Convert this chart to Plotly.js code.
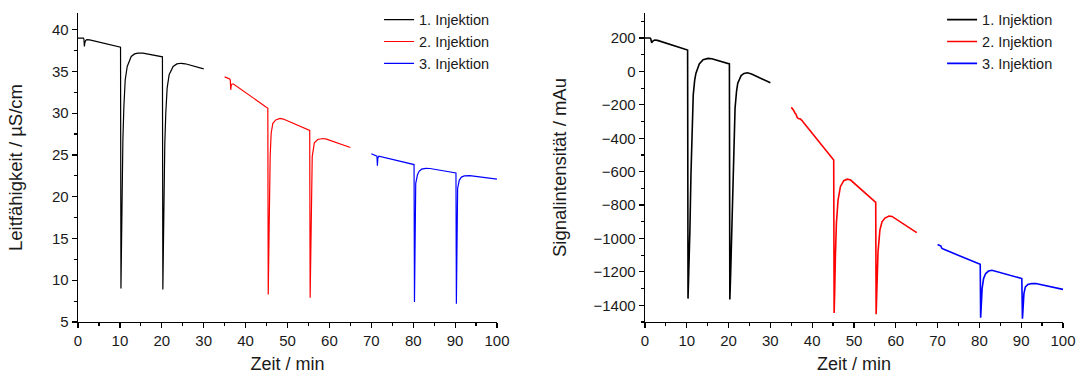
<!DOCTYPE html>
<html>
<head>
<meta charset="utf-8">
<script src="https://cdn.plot.ly/plotly-3.0.1.min.js"></script>
<style>html,body{margin:0;padding:0;background:#fff;}#chart{width:1080px;height:376px;}</style>
</head>
<body>
<div id="chart"></div>
<script>
// ---------- Data ----------
const seriesNames = ["1. Injektion", "2. Injektion", "3. Injektion"];
const seriesColors = ["#000000", "#ff0000", "#0000ff"];

// Left: Leitfähigkeit / µS/cm
const tCond1 = [0, 1.3, 1.42, 1.52, 1.62, 1.8, 2.1, 2.8, 10.15, 10.25, 10.39, 10.47, 10.59, 10.71, 10.95, 11.27, 11.75, 12.7, 13.5, 14.3, 15.5, 20.15, 20.25, 20.39, 20.47, 20.59, 20.71, 20.95, 21.27, 21.75, 22.7, 23.6, 24.6, 25.6, 30.0];
const cond1  = [39.0, 39.0, 38.85, 38.0, 38.4, 38.7, 38.8, 38.78, 37.9, 9.0, 14.9, 20.9, 24.8, 26.8, 30.8, 34.0, 35.6, 36.8, 37.1, 37.2, 37.2, 36.75, 8.9, 14.5, 20.3, 24.2, 26.3, 30.0, 33.0, 34.6, 35.6, 35.9, 35.98, 35.92, 35.3];
const tCond2 = [35.0, 35.6, 36.2, 36.35, 36.45, 36.55, 36.75, 37.1, 45.3, 45.4, 45.58, 45.7, 45.86, 46.1, 46.5, 47.2, 48.2, 49.0, 55.3, 55.4, 55.6, 55.7, 55.9, 56.4, 57.2, 58.5, 59.3, 65.0];
const cond2  = [34.35, 34.25, 34.1, 33.95, 32.8, 33.3, 33.5, 33.5, 30.6, 8.3, 14.9, 20.85, 24.8, 27.6, 28.8, 29.2, 29.38, 29.3, 27.95, 7.9, 15.0, 20.85, 24.8, 26.45, 26.85, 26.97, 26.9, 25.9];
const tCond3 = [70.0, 71.2, 71.35, 71.45, 71.55, 71.8, 80.2, 80.3, 80.38, 80.45, 80.6, 81.0, 81.4, 82.0, 83.0, 84.0, 90.2, 90.3, 90.38, 90.45, 90.6, 91.0, 91.5, 92.2, 93.5, 100.0];
const cond3  = [25.15, 24.9, 24.85, 23.7, 24.6, 24.85, 23.85, 7.4, 14.0, 19.0, 21.6, 22.6, 23.05, 23.3, 23.4, 23.38, 22.85, 7.2, 14.0, 18.5, 21.0, 22.0, 22.35, 22.5, 22.52, 22.1];

// Right: Signalintensität / mAu
const tSig1 = [0, 1.2, 1.4, 1.6, 1.8, 2.3, 3.0, 10.2, 10.3, 10.5, 10.75, 11.0, 11.25, 11.55, 11.9, 12.2, 13.0, 13.9, 15.1, 16.0, 20.2, 20.3, 20.5, 20.75, 21.0, 21.25, 21.55, 21.9, 22.2, 23.0, 23.7, 24.5, 25.5, 30.0];
const sig1  = [200, 200, 195, 172, 180, 188, 186, 128, -1360, -1200, -950, -620, -320, -140, -50, -10, 45, 70, 78, 76, 45, -1365, -1210, -980, -680, -400, -220, -120, -70, -25, -12, -8, -15, -68];
const tSig2 = [35.0, 35.5, 35.9, 36.1, 36.4, 36.7, 37.2, 37.6, 45.15, 45.25, 45.39, 45.55, 45.79, 46.19, 46.75, 47.55, 48.4, 49.2, 55.2, 55.3, 55.5, 55.75, 56.2, 56.7, 57.4, 58.4, 59.1, 65.0];
const sig2  = [-215, -230, -250, -255, -275, -282, -285, -295, -530, -1446, -1310, -1110, -910, -770, -690, -654, -645, -650, -784, -1454, -1310, -1080, -950, -900, -878, -866, -868, -965];
const tSig3 = [70.0, 70.8, 71.0, 71.5, 80.2, 80.3, 80.45, 80.65, 81.0, 81.5, 82.2, 83.0, 90.15, 90.3, 90.45, 90.65, 91.0, 91.6, 92.5, 93.5, 100.0];
const sig3  = [-1036, -1045, -1058, -1065, -1155, -1474, -1400, -1300, -1240, -1210, -1195, -1190, -1240, -1480, -1410, -1330, -1290, -1275, -1270, -1270, -1305];

// Axis ticks
const xTickVals = [0, 10, 20, 30, 40, 50, 60, 70, 80, 90, 100];
const condTickVals = [5, 10, 15, 20, 25, 30, 35, 40];
const sigTickVals = [-1400, -1200, -1000, -800, -600, -400, -200, 0, 200];

// ---------- Build ----------
const FONT = "Arial, 'Liberation Sans', sans-serif";
const leftT = [tCond1, tCond2, tCond3], leftY = [cond1, cond2, cond3];
const rightT = [tSig1, tSig2, tSig3], rightY = [sig1, sig2, sig3];
const traces = [];
for (let i = 0; i < 3; i++) {
  traces.push({x: leftT[i], y: leftY[i], type: 'scatter', mode: 'lines', name: seriesNames[i],
    line: {color: seriesColors[i], width: 1.2}, xaxis: 'x', yaxis: 'y', legend: 'legend'});
}
for (let i = 0; i < 3; i++) {
  traces.push({x: rightT[i], y: rightY[i], type: 'scatter', mode: 'lines', name: seriesNames[i],
    line: {color: seriesColors[i], width: 1.6}, xaxis: 'x2', yaxis: 'y2', legend: 'legend2'});
}

function xAxis(domain, anchor) {
  return {domain: domain, anchor: anchor, range: [0, 100], tickvals: xTickVals, ticks: 'outside', ticklen: 5,
    tickwidth: 1.2, tickcolor: '#000', showline: true, linecolor: '#000', linewidth: 1.3, showgrid: false,
    zeroline: false, mirror: false, tickfont: {family: FONT, size: 15, color: '#1a1a1a'},
    minor: {dtick: 5, tick0: 0, ticks: 'outside', ticklen: 3, tickcolor: '#000', tickwidth: 1.2, showgrid: false},
    title: {text: 'Zeit / min', font: {family: FONT, size: 18, color: '#1a1a1a'}, standoff: 9}};
}
function yAxis(range, vals, dminor, title, anchor, standoff) {
  return {domain: [0, 1], anchor: anchor, range: range, tickvals: vals, ticks: 'outside', ticklen: 5,
    tickwidth: 1.2, tickcolor: '#000', showline: true, linecolor: '#000', linewidth: 1.3, showgrid: false,
    zeroline: false, mirror: false, tickfont: {family: FONT, size: 15, color: '#1a1a1a'},
    minor: {dtick: dminor, tick0: 0, ticks: 'outside', ticklen: 3, tickcolor: '#000', tickwidth: 1.2, showgrid: false},
    title: {text: title, font: {family: FONT, size: 18.5, color: '#1a1a1a'}, standoff: standoff}};
}

const legendBase = {bgcolor: 'rgba(0,0,0,0)', borderwidth: 0, font: {family: FONT, size: 14.5, color: '#1a1a1a'},
  yanchor: 'top', xanchor: 'right', tracegroupgap: 0};

const layout = {
  width: 1080, height: 376,
  margin: {l: 78, r: 17, t: 13, b: 54, autoexpand: false},
  paper_bgcolor: '#fff', plot_bgcolor: '#fff',
  showlegend: true,
  xaxis: xAxis([0, 0.4254], 'y'),
  yaxis: yAxis([5, 42], condTickVals, 2.5, 'Leitfähigkeit / µS/cm', 'x', 24),
  xaxis2: xAxis([0.5756, 1], 'y2'),
  yaxis2: yAxis([-1500, 350], sigTickVals, 100, 'Signalintensität / mAu', 'x2', 22),
  legend: Object.assign({}, legendBase, {x: 0.4234, y: 1.03}),
  legend2: Object.assign({}, legendBase, {x: 0.995, y: 1.03})
};

Plotly.newPlot('chart', traces, layout, {displayModeBar: false, staticPlot: true});
</script>
</body>
</html>
